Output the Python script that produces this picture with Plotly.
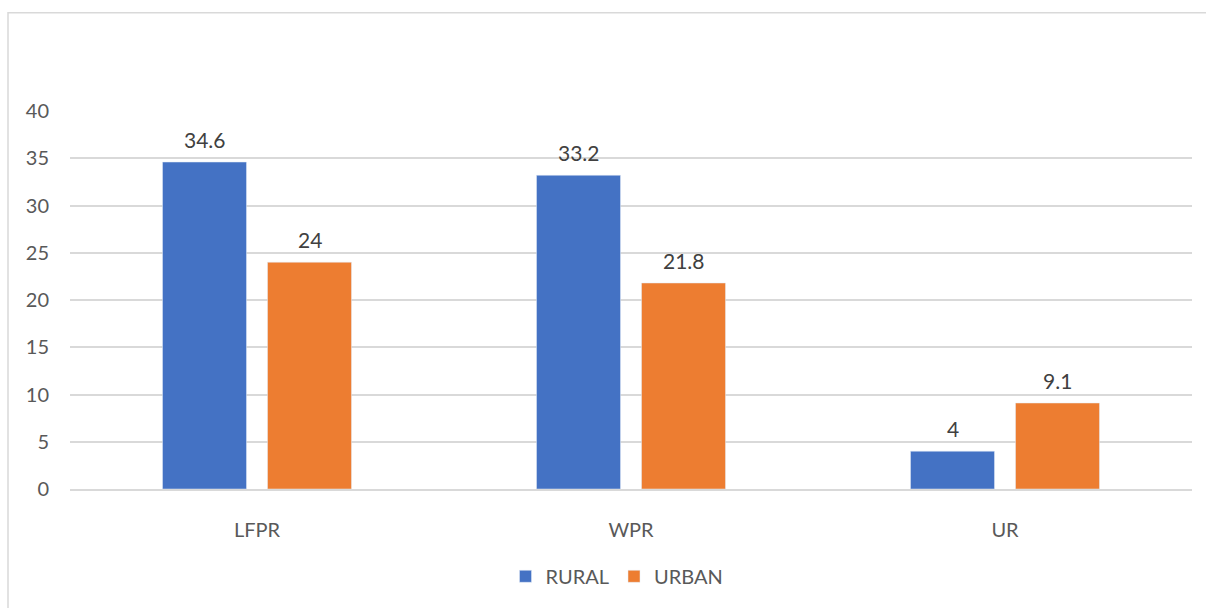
import plotly.graph_objects as go

categories = ["LFPR", "WPR", "UR"]
rural = [34.6, 33.2, 4]
urban = [24, 21.8, 9.1]
y_ticks = [0, 5, 10, 15, 20, 25, 30, 35, 40]

FONT = "Lato, 'Open Sans', sans-serif"
FS = 20
W, H = 1206, 608
L, R, T, B = 70, 14, 111, 116
pw, ph = W - L - R, H - T - B

fig = go.Figure()
fig.add_trace(go.Bar(name="RURAL", x=categories, y=rural, marker_color="#4472C4"))
fig.add_trace(go.Bar(name="URBAN", x=categories, y=urban, marker_color="#ED7D31"))

# value labels sitting a little above each bar
bar_offset = 52.5
for values, dx in ((rural, -bar_offset), (urban, bar_offset)):
    for cat, v in zip(categories, values):
        fig.add_annotation(
            x=cat, y=v, text=f"{v:g}", showarrow=False,
            xanchor="center", yanchor="bottom", xshift=dx, yshift=8,
            font=dict(size=FS + 1, color="#404040", family=FONT),
        )

# chart-area frame
fig.add_shape(
    type="rect", xref="paper", yref="paper",
    x0=(8 - L) / pw, x1=(1220 - L) / pw,
    y0=(H - B - 620) / ph, y1=(H - B - 12) / ph,
    line=dict(color="#D9D9D9", width=1.5), fillcolor="rgba(0,0,0,0)", layer="below",
)

fig.update_layout(
    width=W, height=H,
    margin=dict(l=L, r=R, t=T, b=B, pad=0),
    paper_bgcolor="white", plot_bgcolor="white",
    barmode="group", bargap=0.4385, bargroupgap=0.2,
    font=dict(family=FONT, size=FS, color="#595959"),
    showlegend=True,
    legend=dict(orientation="h", x=0.5 - 14 / pw, xanchor="center",
                y=(H - B - 580) / ph, yanchor="middle",
                font=dict(size=FS, color="#595959"), itemwidth=30,
                traceorder="normal"),
    xaxis=dict(showgrid=False, showline=True, linecolor="#D9D9D9", linewidth=1.5,
               ticks="", tickfont=dict(size=FS, color="#595959"),
               ticklabelstandoff=22),
    yaxis=dict(range=[0, 40], tickvals=y_ticks, showgrid=True,
               gridcolor="#D9D9D9", gridwidth=1.5, zeroline=False,
               showline=False, ticks="", tickfont=dict(size=FS, color="#595959"),
               ticklabelstandoff=20),
)

fig.write_html("out.html")
